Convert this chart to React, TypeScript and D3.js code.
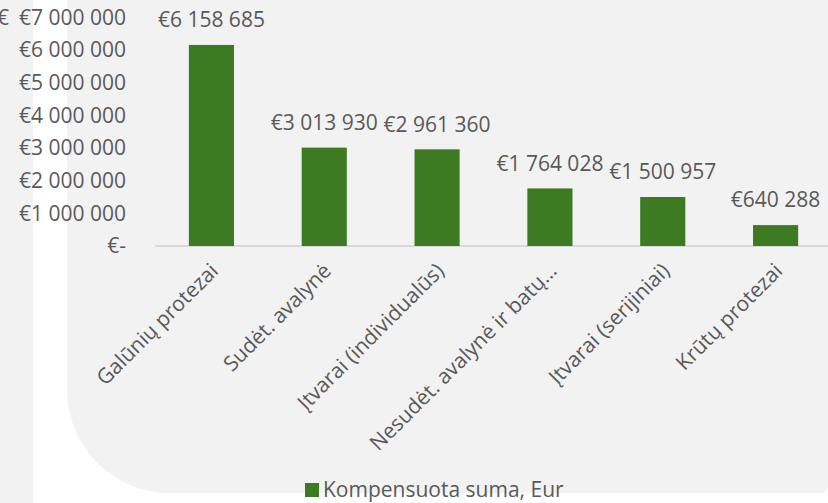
import React from "react";
import * as d3 from "d3";

const categories = [
  "Galūnių protezai",
  "Sudėt. avalynė",
  "Įtvarai (individualūs)",
  "Nesudėt. avalynė ir batų…",
  "Įtvarai (serijiniai)",
  "Krūtų protezai",
];
const values = [6158685, 3013930, 2961360, 1764028, 1500957, 640288];
const yTicks = [0, 1000000, 2000000, 3000000, 4000000, 5000000, 6000000, 7000000];
const seriesName = "Kompensuota suma, Eur";

const W = 828;
const H = 503;
const FONT = "'Open Sans', 'DejaVu Sans', sans-serif";
const TEXT = "#595959";
const BAR = "#3d7b22";
const PANEL = "#f2f2f2";
const FS = 21;

const fmt = (v: number) =>
  v === 0
    ? "€-"
    : "€" + d3.format(",")(v).replace(/,/g, " ");

const App: React.FC = () => {
  const x = d3.scaleBand<string>().domain(categories).range([155, 832]).paddingInner(0.6).paddingOuter(0.3);
  const y = d3.scaleLinear().domain([0, 7000000]).range([246, 17.5]);

  // rounded bottom-left corner of the panel
  const r = 103;
  const panelPath = `M67,0 H${W} V${493 - 8} Q${W},493 ${W - 8},493 H${67 + r} A${r},${r} 0 0 1 67,${493 - r} Z`;

  return (
    <svg
      width={W}
      height={H}
      style={{ position: "absolute", left: 0, top: 0, background: "#fff" }}
      fontFamily={FONT}
    >
      <rect x={0} y={0} width={33} height={H} fill={PANEL} />
      <text x={-3} y={25} fontSize={FS} fill={TEXT}>€</text>
      <path d={panelPath} fill={PANEL} />

      {yTicks.map((t) => (
        <text key={t} x={126} y={y(t)} dy="0.35em" textAnchor="end" fontSize={FS} fill={TEXT}>
          {fmt(t)}
        </text>
      ))}

      <line x1={155} x2={W} y1={y(0)} y2={y(0)} stroke="#d9d9d9" strokeWidth={2} />

      {categories.map((c, i) => (
        <g key={c}>
          <rect
            x={x(c)!}
            y={y(values[i])}
            width={x.bandwidth()}
            height={y(0) - y(values[i])}
            fill={BAR}
          />
          <text
            x={x(c)! + x.bandwidth() / 2}
            y={y(values[i]) - 25}
            dy="0.35em"
            textAnchor="middle"
            fontSize={FS}
            fill={TEXT}
          >
            {fmt(values[i])}
          </text>
          <text
            transform={`translate(${x(c)! + x.bandwidth() / 2 + 3},${267}) rotate(-45)`}
            textAnchor="end"
            dy="0.35em"
            fontSize={FS}
            fill={TEXT}
          >
            {c}
          </text>
        </g>
      ))}

      <rect x={305} y={483} width={14} height={14} fill={BAR} />
      <text x={323} y={490} dy="0.35em" fontSize={FS} fill={TEXT}>
        {seriesName}
      </text>
    </svg>
  );
};

export default App;
